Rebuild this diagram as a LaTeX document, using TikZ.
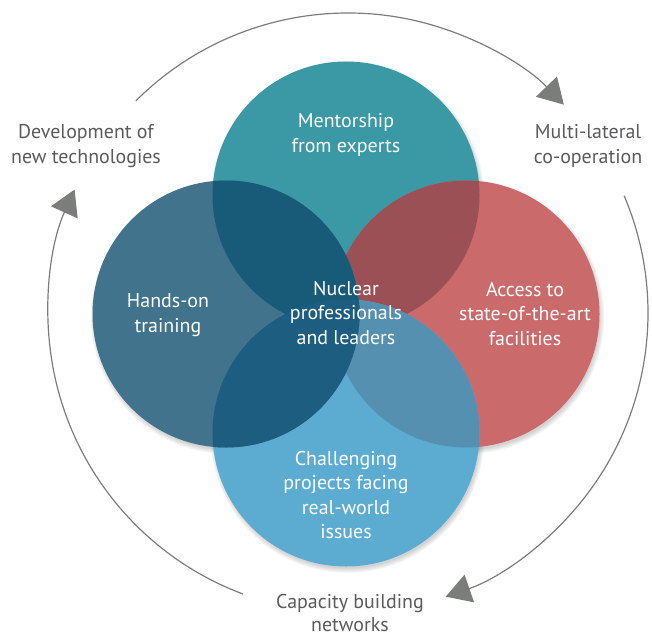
\documentclass[tikz,border=0pt]{standalone}
\usepackage{fontspec}
\setmainfont{PT Sans}
\usetikzlibrary{arrows.meta,calc}
\definecolor{teal1}{HTML}{3B98A5}
\definecolor{navy1}{HTML}{42738C}
\definecolor{rose1}{HTML}{CB6A6A}
\definecolor{sky1}{HTML}{5CACD2}
\definecolor{tlmix}{HTML}{175B79}
\definecolor{trmix}{HTML}{9A5055}
\definecolor{lbmix}{HTML}{1D5E80}
\definecolor{rbmix}{HTML}{5590B1}
\definecolor{ink}{HTML}{595A5C}
\definecolor{ringc}{HTML}{6F7072}
\definecolor{tipc}{HTML}{7B7D7B}
\tikzset{
  lab/.style={font=\fontsize{20}{24.5}\selectfont,text=ink,align=center,inner sep=0pt},
  inlab/.style={lab,text=white},
  arr/.style={draw=ringc,line width=1.2bp,-{Triangle[length=25bp,width=29bp,fill=tipc]},tipc},
}
\newcommand\rad{133.5}

\begin{document}
\begin{tikzpicture}[x=1bp,y=1bp]
\useasboundingbox (0,0) rectangle (652,-637);
\coordinate (hub) at (348,-313);
\coordinate (ct) at (346,-195);
\coordinate (cl) at (226,-314);
\coordinate (cr) at (466,-314);
\coordinate (cb) at (346,-433);
% soft shadow under the circles
\foreach \c in {ct,cl,cr,cb}
  \foreach \k in {1,...,6}
    \fill[black,opacity=0.03] ($(\c)+(1.5,-3)$) circle[radius=\rad-2+\k*0.9];
% circles, overlaps painted through clips
\fill[teal1] (ct) circle[radius=\rad];
\fill[rose1] (cr) circle[radius=\rad];
\begin{scope}
  \clip (ct) circle[radius=\rad];
  \fill[trmix] (cr) circle[radius=\rad];
\end{scope}
\fill[sky1] (cb) circle[radius=\rad];
\begin{scope}
  \clip (cr) circle[radius=\rad];
  \fill[rbmix] (cb) circle[radius=\rad];
\end{scope}
\fill[navy1] (cl) circle[radius=\rad];
\begin{scope}
  \clip (cl) circle[radius=\rad];
  \fill[tlmix] (ct) circle[radius=\rad];
  \fill[lbmix] (cb) circle[radius=\rad];
\end{scope}
% texts
\node[inlab] (mentor) at (346,-135) {Mentorship\\from experts};
\node[inlab] (hands) at (168,-315) {Hands-on\\training};
\node[inlab] (access) at (525,-314) {Access to\\state-of-the-art\\facilities};
\node[inlab] (core) at (346,-313) {Nuclear\\professionals\\and leaders};
\node[inlab] (chall) at (346,-495) {Challenging\\projects facing\\real-world\\issues};
\node[lab] (dev) at (86,-146) {Development of\\new technologies};
\node[lab] (multi) at (588,-146) {Multi-lateral\\co-operation};
\node[lab,font=\fontsize{20}{23}\selectfont] (cap) at (350,-613) {Capacity building\\networks};
% cycle around
\coordinate (a1) at ($(hub)+(135:300)$);
\coordinate (a2) at ($(hub)+(23:300)$);
\coordinate (a3) at ($(hub)+(249.5:300)$);
\draw[arr] (a1) arc[start angle=135,end angle=44,radius=300];
\draw[arr] (a2) arc[start angle=23,end angle=-71,radius=300];
\draw[arr] (a3) arc[start angle=249.5,end angle=155.7,radius=300];
\end{tikzpicture}
\end{document}
